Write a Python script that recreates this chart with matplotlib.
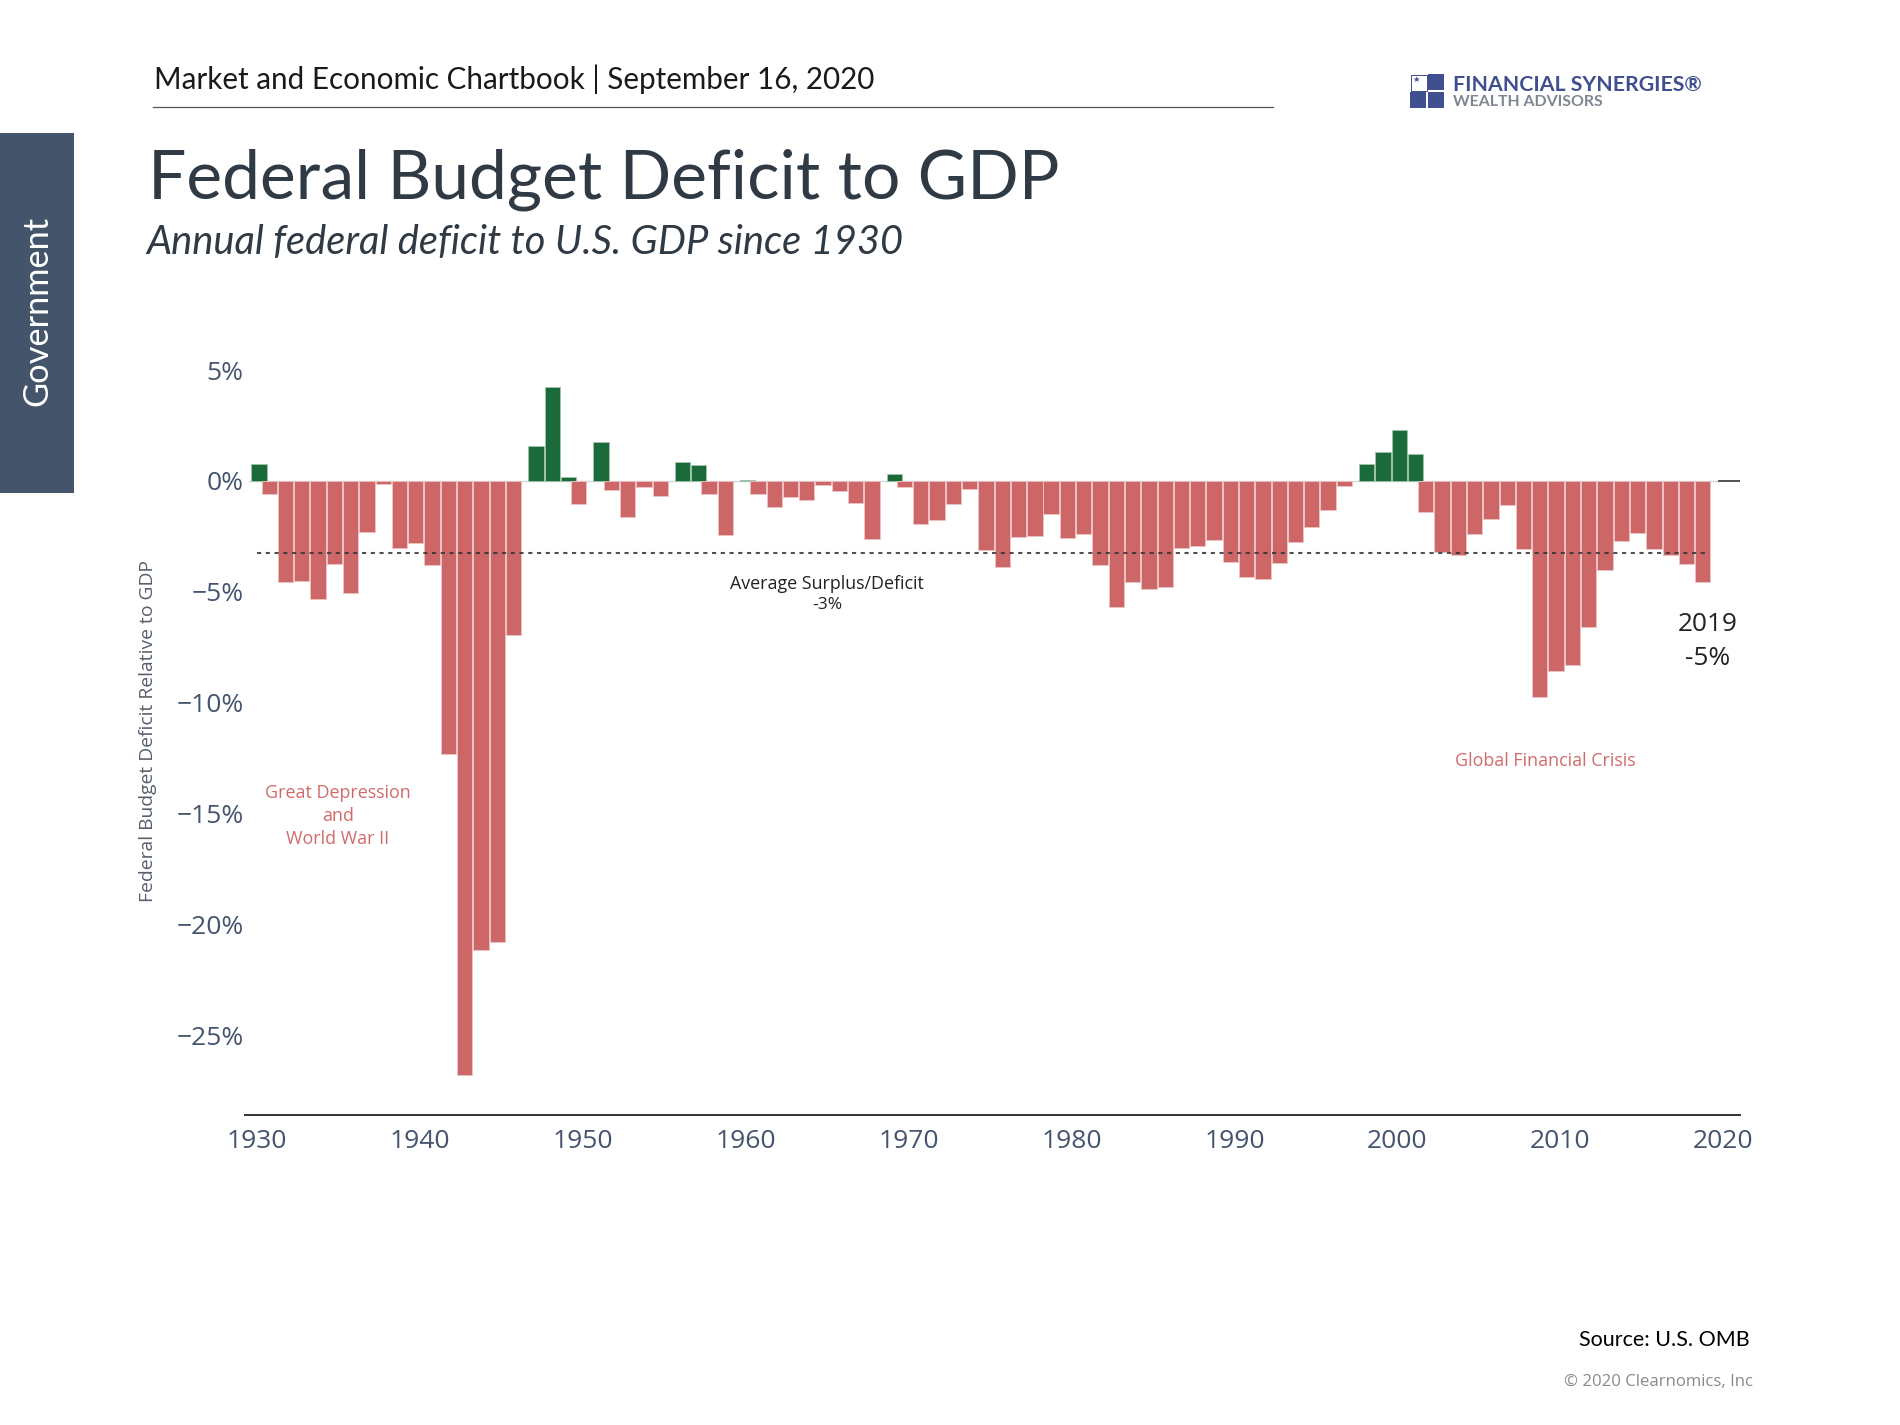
import numpy as np
import matplotlib
matplotlib.use("Agg")
import matplotlib.pyplot as plt
from matplotlib.patches import Rectangle
from matplotlib.transforms import Bbox

W, H = 1900, 1425

years = list(range(1930, 2020))
deficit = [
    0.78, -0.60, -4.57, -4.50, -5.34, -3.75, -5.07, -2.31, -0.12, -3.00,
    -2.80, -3.80, -12.30, -26.80, -21.15, -20.80, -6.95, 1.60, 4.26, 0.18,
    -1.03, 1.75, -0.40, -1.62, -0.28, -0.69, 0.85, 0.70, -0.57, -2.43,
    0.06, -0.58, -1.18, -0.73, -0.85, -0.16, -0.45, -0.99, -2.62, 0.33,
    -0.25, -1.93, -1.77, -1.02, -0.37, -3.12, -3.90, -2.53, -2.47, -1.50,
    -2.55, -2.41, -3.79, -5.67, -4.56, -4.87, -4.80, -3.04, -2.92, -2.65,
    -3.67, -4.35, -4.44, -3.69, -2.74, -2.08, -1.30, -0.24, 0.76, 1.30,
    2.32, 1.21, -1.39, -3.22, -3.34, -2.38, -1.72, -1.09, -3.06, -9.73,
    -8.58, -8.32, -6.58, -4.02, -2.71, -2.35, -3.06, -3.36, -3.75, -4.56,
]
average = -3.23
avg_span = [1930, 2019]
x_ticks = list(range(1930, 2021, 10))
y_ticks = [5, 0, -5, -10, -15, -20, -25]

RED, RED_EDGE = "#CD6666", "#EDC4C4"
GREEN, GREEN_EDGE = "#1B6B3A", "#A3C4AF"
TICK = "#44546F"
DARK = "#2F3A45"
LOGO = "#3F4F8F"

plt.rcParams["font.family"] = ["Open Sans", "DejaVu Sans"]
fig = plt.figure(figsize=(W / 100, H / 100), dpi=100, facecolor="white")

ax_l, ax_r, ax_t, ax_b = 245, 1740, 350, 1115
ax = fig.add_axes([ax_l / W, 1 - ax_b / H, (ax_r - ax_l) / W, (ax_b - ax_t) / H])
ppx = 16.29
ppy = 22.17
ax.set_xlim(1930 - (257 - ax_l) / ppx, 1930 + (ax_r - 257) / ppx)
ax.set_ylim(-(ax_b - 481) / ppy, (481 - ax_t) / ppy)

yrs = np.array(years)
vals = np.array(deficit)
pos = vals > 0
ax.axhline(0, color="#CFDADF", lw=1.0, xmin=0.003, xmax=0.985, zorder=1)
ax.bar(yrs[pos] + 0.12, vals[pos], width=0.94, color=GREEN, edgecolor=GREEN_EDGE, linewidth=0.6, zorder=2)
ax.bar(yrs[~pos] - 0.25, vals[~pos], width=0.94, color=RED, edgecolor=RED_EDGE, linewidth=0.6, zorder=2)
ax.plot(avg_span, [average, average], color="#333333", lw=1.5, dashes=(2, 2.2), alpha=0.85, zorder=3)
ax.plot([(1719 - ax_l) / (ax_r - ax_l), 1], [0, 0], color="#444444", lw=1.3,
        transform=ax.get_yaxis_transform(), zorder=3)

for s in ["top", "left", "right"]:
    ax.spines[s].set_visible(False)
ax.spines["bottom"].set_color("#333333")
ax.spines["bottom"].set_linewidth(1.4)
ax.set_xticks(x_ticks, [str(t) for t in x_ticks])
ax.set_yticks(y_ticks, [f"{t}%".replace("-", "\u2212") for t in y_ticks])
ax.tick_params(axis="x", length=0, pad=10, labelsize=19, labelcolor=TICK)
ax.tick_params(axis="y", length=0, pad=1, labelsize=19, labelcolor=TICK)

fig.canvas.draw()
clip = Bbox.from_extents(0, 0, 1752, H)
for lab in ax.get_xticklabels():
    lab.set_clip_box(clip)
    lab.set_clip_on(True)


def T(x, y, s, size, color="black", ha="center", va="center", fit=None, **kw):
    kw.setdefault("family", ["Open Sans", "DejaVu Sans"])
    t = fig.text(x / W, 1 - y / H, s, fontsize=size, color=color, ha=ha, va=va, **kw)
    if fit:
        r = fig.canvas.get_renderer()
        ext = t.get_window_extent(r)
        horizontal = kw.get("rotation", 0) == 0
        t.set_fontsize(size * fit / (ext.width if horizontal else ext.height))
    return t


HEAD = ["Lato", "DejaVu Sans"]
# header block
T(154, 79, "Market and Economic Chartbook | September 16, 2020", 22, "#1a1a1a", ha="left", family=HEAD, fit=716)
fig.add_artist(plt.Line2D([153 / W, 1273 / W], [1 - 107 / H] * 2, color="#555555", lw=0.9))
T(148, 180, "Federal Budget Deficit to GDP", 50, DARK, ha="left", family=HEAD, fit=910)
T(146, 242, "Annual federal deficit to U.S. GDP since 1930", 30, DARK, ha="left", family=HEAD, style="italic", fit=757)

# side tab
fig.add_artist(Rectangle((0, 1 - 493 / H), 74 / W, 360 / H, transform=fig.transFigure, color="#44546A", lw=0))
T(37, 311, "Government", 24, "white", rotation=90, family=HEAD, fit=190)

# logo
for (x, y, fc) in [(1410.5, 74.5, "white"), (1428, 74, LOGO), (1410, 92, LOGO), (1428, 92, LOGO)]:
    fig.add_artist(Rectangle((x / W, 1 - (y + 16) / H), 16 / W, 16 / H, transform=fig.transFigure,
                             facecolor=fc, edgecolor=LOGO if fc == "white" else "none", lw=0.7))
T(1416, 79, "\u2605", 6, LOGO, family=["DejaVu Sans"])
T(1453, 85, "FINANCIAL SYNERGIES\u00ae", 13, LOGO, ha="left", family=HEAD, weight="bold", fit=249)
T(1453, 102, "WEALTH ADVISORS", 10, "#7F8792", ha="left", family=HEAD, weight="bold", fit=150)

# annotations
T(148, 731, "Federal Budget Deficit Relative to GDP", 12, "#555F6B", rotation=90, fit=340)
for y, s in zip([793, 816, 839], ["Great Depression", "and", "World War II"]):
    T(338, y, s, 12.9, "#D06A6A")
T(1545, 761, "Global Financial Crisis", 12.9, "#D06A6A")
T(827, 584, "Average Surplus/Deficit", 12.9, "#222222")
T(827, 605, "-3%", 12.5, "#222222")
T(1708, 624, "2019", 18.9, "#222222")
T(1708, 659, "-5%", 18.9, "#222222")

# footer
T(1750, 1340, "Source: U.S. OMB", 16, "black", ha="right", family=HEAD, fit=171)
T(1753, 1382, "\u00a9 2020 Clearnomics, Inc", 12, "#8A8A8A", ha="right", fit=189)

fig.savefig("out.png", dpi=100, facecolor="white")
